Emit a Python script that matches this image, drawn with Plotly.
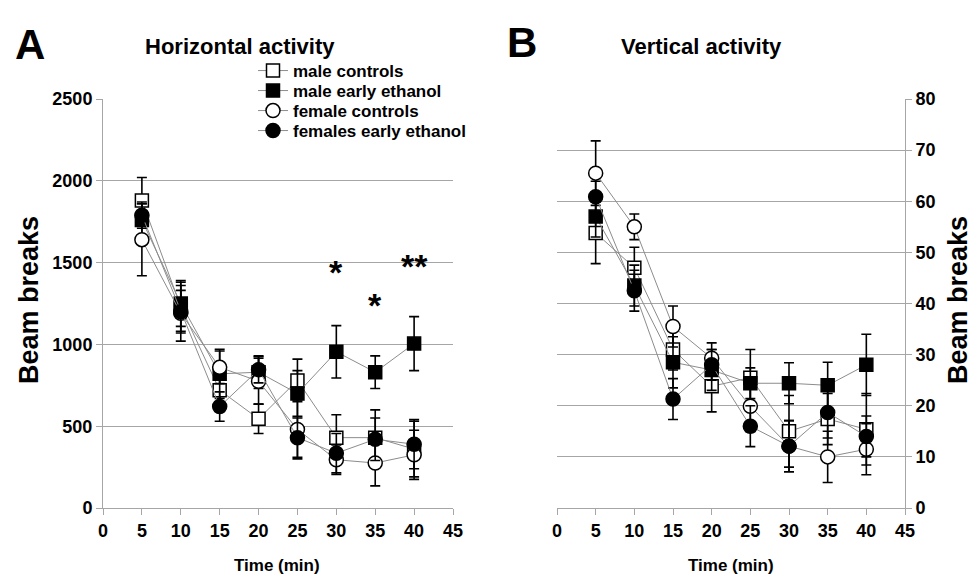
import plotly.graph_objects as go

time_min = [5, 10, 15, 20, 25, 30, 35, 40]
series_names = ["male controls", "male early ethanol", "female controls", "females early ethanol"]

# Horizontal activity (beam breaks)
h_male_ctrl = [1880, 1230, 720, 545, 780, 430, 430, 360]
h_male_eth = [1760, 1250, 820, 830, 700, 955, 830, 1005]
h_fem_ctrl = [1640, 1190, 860, 775, 480, 295, 275, 325]
h_fem_eth = [1790, 1200, 620, 845, 430, 335, 420, 390]
h_male_ctrl_se = [140, 150, 130, 90, 130, 140, 170, 170]
h_male_eth_se = [100, 140, 150, 100, 140, 160, 100, 165]
h_fem_ctrl_se = [220, 170, 100, 140, 180, 90, 140, 150]
h_fem_eth_se = [80, 130, 90, 80, 120, 120, 130, 150]

# Vertical activity (beam breaks)
v_male_ctrl = [53.8, 47, 31, 23.8, 25.5, 15, 17.4, 15.4]
v_male_eth = [57, 43.5, 28.5, 27, 24.4, 24.4, 24, 28]
v_fem_ctrl = [65.5, 55, 35.5, 29.3, 19.9, 12.1, 10, 11.5]
v_fem_eth = [60.9, 42.5, 21.3, 28, 16, 12.1, 18.7, 14]
v_male_ctrl_se = [6, 4, 4, 5, 5.5, 7, 5, 7]
v_male_eth_se = [4, 4, 5, 4, 3, 4, 4.5, 6]
v_fem_ctrl_se = [6.3, 2.5, 4, 3, 5, 5, 5, 5]
v_fem_eth_se = [3, 4, 4, 3, 4, 5, 5, 4]

x_ticks = [0, 5, 10, 15, 20, 25, 30, 35, 40, 45]
h_ticks = [0, 500, 1000, 1500, 2000, 2500]
v_ticks = [0, 10, 20, 30, 40, 50, 60, 70, 80]

sig_labels = ["*", "*", "**"]
sig_times = [30, 35, 40]
sig_values = [1440, 1240, 1480]

styles = [
    dict(symbol="square", fill="white"),
    dict(symbol="square", fill="black"),
    dict(symbol="circle", fill="white"),
    dict(symbol="circle", fill="black"),
]

FONT = "Arial, Liberation Sans, sans-serif"
W, H = 974, 580

fig = go.Figure()

h_data = [(h_male_ctrl, h_male_ctrl_se), (h_male_eth, h_male_eth_se),
          (h_fem_ctrl, h_fem_ctrl_se), (h_fem_eth, h_fem_eth_se)]
v_data = [(v_male_ctrl, v_male_ctrl_se), (v_male_eth, v_male_eth_se),
          (v_fem_ctrl, v_fem_ctrl_se), (v_fem_eth, v_fem_eth_se)]

legend_ids = ["legend", "legend2", "legend3", "legend4"]
legend_rows = [71, 91, 111, 131]


def add_panel(data, xa, ya, showlegend):
    for i, (vals, se) in enumerate(data):
        st = styles[i]
        sym = st["symbol"]
        fig.add_trace(go.Scatter(
            x=time_min, y=vals, name=series_names[i], xaxis=xa, yaxis=ya,
            mode="lines+markers", showlegend=showlegend, legend=legend_ids[i],
            line=dict(color="#8c8c8c", width=1),
            marker=dict(symbol=sym, size=13 if sym == "square" else 14,
                        color=st["fill"], line=dict(color="black", width=1.5)),
            error_y=dict(type="data", array=se, visible=True, color="black",
                         thickness=1.6, width=5),
        ))


add_panel(h_data, "x", "y", True)
add_panel(v_data, "x2", "y2", False)

for lab, t, v in zip(sig_labels, sig_times, sig_values):
    fig.add_annotation(x=t, y=v, xref="x", yref="y", text=lab, showarrow=False,
                       font=dict(family=FONT, size=34, color="black", weight="bold"))

yd = [1 - 508 / H, 1 - 99 / H]
tickfont = dict(family=FONT, size=18, color="black", weight="bold")
axis_common = dict(showline=True, linecolor="#a6a6a6", linewidth=1,
                   ticks="outside", tickcolor="#a6a6a6", ticklen=6,
                   tickfont=tickfont, zeroline=False)

fig.update_layout(
    width=W, height=H,
    margin=dict(l=0, r=0, t=0, b=0, pad=0, autoexpand=False),
    paper_bgcolor="white", plot_bgcolor="white",
    font=dict(family=FONT, color="black"),
    xaxis=dict(domain=[103 / W, 453 / W], range=[0, 45], tickvals=x_ticks,
               showgrid=False, anchor="y", **axis_common),
    yaxis=dict(domain=yd, range=[0, 2500], tickvals=h_ticks, showgrid=True,
               gridcolor="#a6a6a6", gridwidth=1, anchor="x", **axis_common),
    xaxis2=dict(domain=[557 / W, 905 / W], range=[0, 45], tickvals=x_ticks,
                showgrid=False, anchor="y2", **axis_common),
    yaxis2=dict(domain=yd, range=[0, 80], tickvals=v_ticks, showgrid=True,
                gridcolor="#a6a6a6", gridwidth=1, anchor="x2", side="right",
                **axis_common),
    showlegend=True,
)

for lid, row in zip(legend_ids, legend_rows):
    fig.update_layout({lid: dict(
        x=253 / W, y=1 - row / H, xanchor="left", yanchor="middle",
        bgcolor="rgba(255,255,255,0)", borderwidth=0,
        font=dict(family=FONT, size=17, color="black", weight="bold"),
        itemwidth=30)})


def ann(text, xp, yp, size, angle=0):
    fig.add_annotation(x=xp / W, y=1 - yp / H, xref="paper", yref="paper",
                       text=text, showarrow=False, textangle=angle,
                       xanchor="center", yanchor="middle",
                       font=dict(family=FONT, size=size, color="black", weight="bold"))


ann("A", 30, 44, 42)
ann("B", 522, 42, 42)
ann("Horizontal activity", 240, 46, 22)
ann("Vertical activity", 701, 46, 22)
ann("Beam breaks", 29, 300, 27, -90)
ann("Beam breaks", 958, 300, 27, -90)
ann("Time (min)", 277, 565, 17)
ann("Time (min)", 731, 565, 17)

fig.write_html("out.html")
